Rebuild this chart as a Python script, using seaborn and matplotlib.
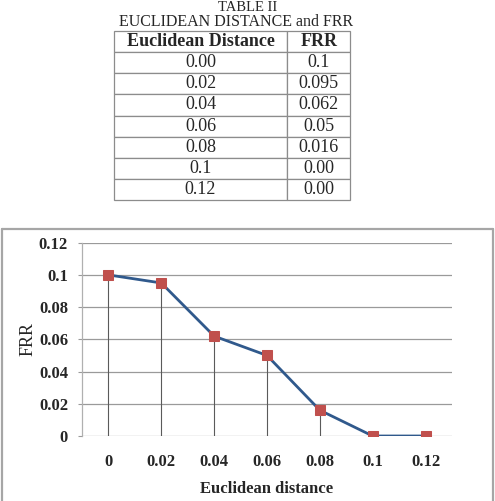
import matplotlib
matplotlib.use("Agg")
import matplotlib.pyplot as plt
from matplotlib.lines import Line2D
import seaborn as sns
import numpy as np

# data (table + chart)
dist_labels = ["0", "0.02", "0.04", "0.06", "0.08", "0.1", "0.12"]
frr = [0.1, 0.095, 0.062, 0.05, 0.016, 0.0, 0.0]
table_dist = ["0.00", "0.02", "0.04", "0.06", "0.08", "0.1", "0.12"]
table_frr = ["0.1", "0.095", "0.062", "0.05", "0.016", "0.00", "0.00"]
y_ticks = [0, 0.02, 0.04, 0.06, 0.08, 0.1, 0.12]
y_tick_labels = ["0", "0.02", "0.04", "0.06", "0.08", "0.1", "0.12"]

sns.set_style("white")
plt.rcParams["font.family"] = ["Liberation Serif", "DejaVu Serif"]

W, H = 495, 501
fig = plt.figure(figsize=(W / 100, H / 100), dpi=100)

def fx(px):
    return px / W

def fy(py):
    return 1 - py / H

# ---- table part ----
fig.text(fx(248), fy(7.5), "TABLE II", ha="center", va="center", fontsize=10.5)
fig.text(fx(236), fy(22), "EUCLIDEAN DISTANCE and FRR", ha="center", va="center", fontsize=11.5)

tax = fig.add_axes([fx(113.7), fy(200), fx(350.3) - fx(113.7), fy(31) - fy(200)])
tax.axis("off")
cells = [[d, f] for d, f in zip(table_dist, table_frr)]
tbl = tax.table(cellText=cells, colLabels=["Euclidean Distance", "FRR"],
                cellLoc="center", bbox=[0, 0, 1, 1], colWidths=[173.6, 63.0])
tbl.auto_set_font_size(False)
for (r, c), cell in tbl.get_celld().items():
    cell.set_edgecolor("#8c8c8c")
    cell.set_linewidth(0.9)
    if r == 0:
        cell.get_text().set_fontweight("bold")
    cell.get_text().set_fontsize(13)

# ---- chart frame ----
frame_kw = dict(color="#a6a6a6", lw=1.6)
fig.add_artist(Line2D([fx(1.5), fx(1.5)], [fy(229), 0], **frame_kw))
fig.add_artist(Line2D([fx(1.5), fx(492.5)], [fy(229), fy(229)], **frame_kw))
fig.add_artist(Line2D([fx(492.5), fx(492.5)], [fy(229), 0], **frame_kw))

# ---- chart ----
ax = fig.add_axes([fx(82), fy(436), fx(452) - fx(82), fy(242.7) - fy(436)])
pos = np.arange(len(dist_labels))

for yv in y_ticks:
    ax.axhline(yv, color="#9a9a9a", lw=0.9, zorder=0)
ax.vlines(pos, 0, frr, color="#5a5a5a", lw=0.8, zorder=1)

sns.lineplot(x=pos, y=frr, ax=ax, color="#30598C", lw=2, marker="s",
             markersize=7.5, markerfacecolor="#C0504D", markeredgecolor="#C0504D",
             zorder=3)

ax.set_xlim(-0.5, len(dist_labels) - 0.5)
ax.set_ylim(0, 0.12)
ax.set_xticks(pos)
ax.set_xticklabels(dist_labels, fontweight="bold", fontsize=12)
ax.set_yticks(y_ticks)
ax.set_yticklabels(y_tick_labels, fontweight="bold", fontsize=12)
ax.tick_params(axis="x", length=0, pad=13)
ax.tick_params(axis="y", length=3, color="#9a9a9a", pad=7, left=True)

for side in ["top", "right", "bottom"]:
    ax.spines[side].set_visible(False)
ax.spines["left"].set_color("#b0b0b0")
ax.spines["left"].set_linewidth(0.9)

ax.set_xlabel("Euclidean distance", fontweight="bold", fontsize=12, labelpad=8)
ax.set_ylabel("FRR", fontsize=13, labelpad=2)

fig.savefig("out.png", dpi=100)
